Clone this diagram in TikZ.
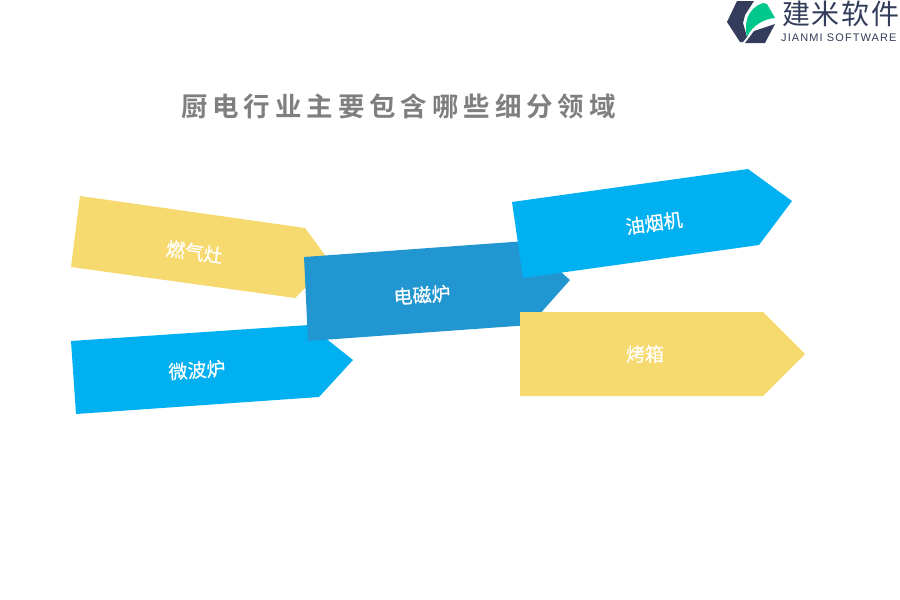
\documentclass[tikz,border=0pt]{standalone}
\usepackage{fontspec}
\usepackage{xcolor}
\usetikzlibrary{positioning}
\newfontfamily\labelfont[FakeBold=0.5]{Noto Sans CJK SC}
\newfontfamily\titlefont[LetterSpace=18.5]{Noto Sans CJK SC Bold}
\newfontfamily\logofont[LetterSpace=6]{Noto Sans CJK SC}
\setsansfont{Liberation Sans}
\definecolor{gasyellow}{HTML}{F6DA6F}
\definecolor{skyblue}{HTML}{00B0F0}
\definecolor{midblue}{HTML}{2296D1}
\definecolor{logonavy}{HTML}{333D5B}
\definecolor{logogreen}{HTML}{00C78C}
\definecolor{titlegray}{HTML}{7F7F7F}

\begin{document}
\begin{tikzpicture}[x=1pt, y=-1pt,
        arrowlabel/.style = {text=white, font=\labelfont\fontsize{19}{19}\selectfont, inner sep=0pt},
    ]
    \useasboundingbox (0,0) rectangle (900,600);
    % arrows
    \fill [gasyellow] (80,196) -- (305,228) -- (331,263) -- (295,298) -- (71,267) -- cycle;
    \fill [skyblue] (71,341) -- (309,325) -- (353,360) -- (319,397) -- (76,414) -- cycle;
    \fill [midblue] (304,257) -- (526,241) -- (570,280) -- (530,325) -- (308,341) -- cycle;
    \fill [skyblue] (512,202) -- (748,169) -- (792,201) -- (759,245) -- (523,278) -- cycle;
    \fill [gasyellow] (520,312) -- (763,312) -- (805,354) -- (763,396) -- (520,396) -- cycle;
    % labels
    \node [arrowlabel, rotate=-8] (gas) at (194.5,252) {燃气灶};
    \node [arrowlabel, rotate=4] (micro) at (197,370) {微波炉};
    \node [arrowlabel, rotate=4] (induction) at (422,295) {电磁炉};
    \node [arrowlabel, rotate=8] (hood) at (654,223) {油烟机};
    \node [arrowlabel] (oven) at (645,354) {烤箱};
    % title
    \node [text=titlegray, font=\titlefont\fontsize{26.5}{26.5}\selectfont, inner sep=0pt] (title) at (398.5,106) {厨电行业主要包含哪些细分领域};
    % logo
    \fill [logonavy] (737,1) -- (754,1) -- (745,15) -- (743,23) -- (747,37) -- (743,42) -- (740,42) -- (727,22) -- cycle;
    \fill [logonavy] (754,31) -- (775,24) -- (765,43) -- (745,43) -- cycle;
    \fill [logogreen] (747,37) .. controls (744,25) and (746,9) .. (763,3) -- (767,4) -- (775,18) .. controls (765,19) and (753,24) .. (747,37) -- cycle;
    \node [text=logonavy, font=\logofont\fontsize{28}{28}\selectfont, inner sep=0pt, anchor=west] (brand) at (782,14) {建米软件};
    \node [text=logonavy, font=\sffamily\fontsize{11}{11}\selectfont, inner sep=0pt, anchor=west] (brandsub) at (781,38) {\addfontfeature{LetterSpace=10}JIANMI SOFTWARE};
\end{tikzpicture}
\end{document}
